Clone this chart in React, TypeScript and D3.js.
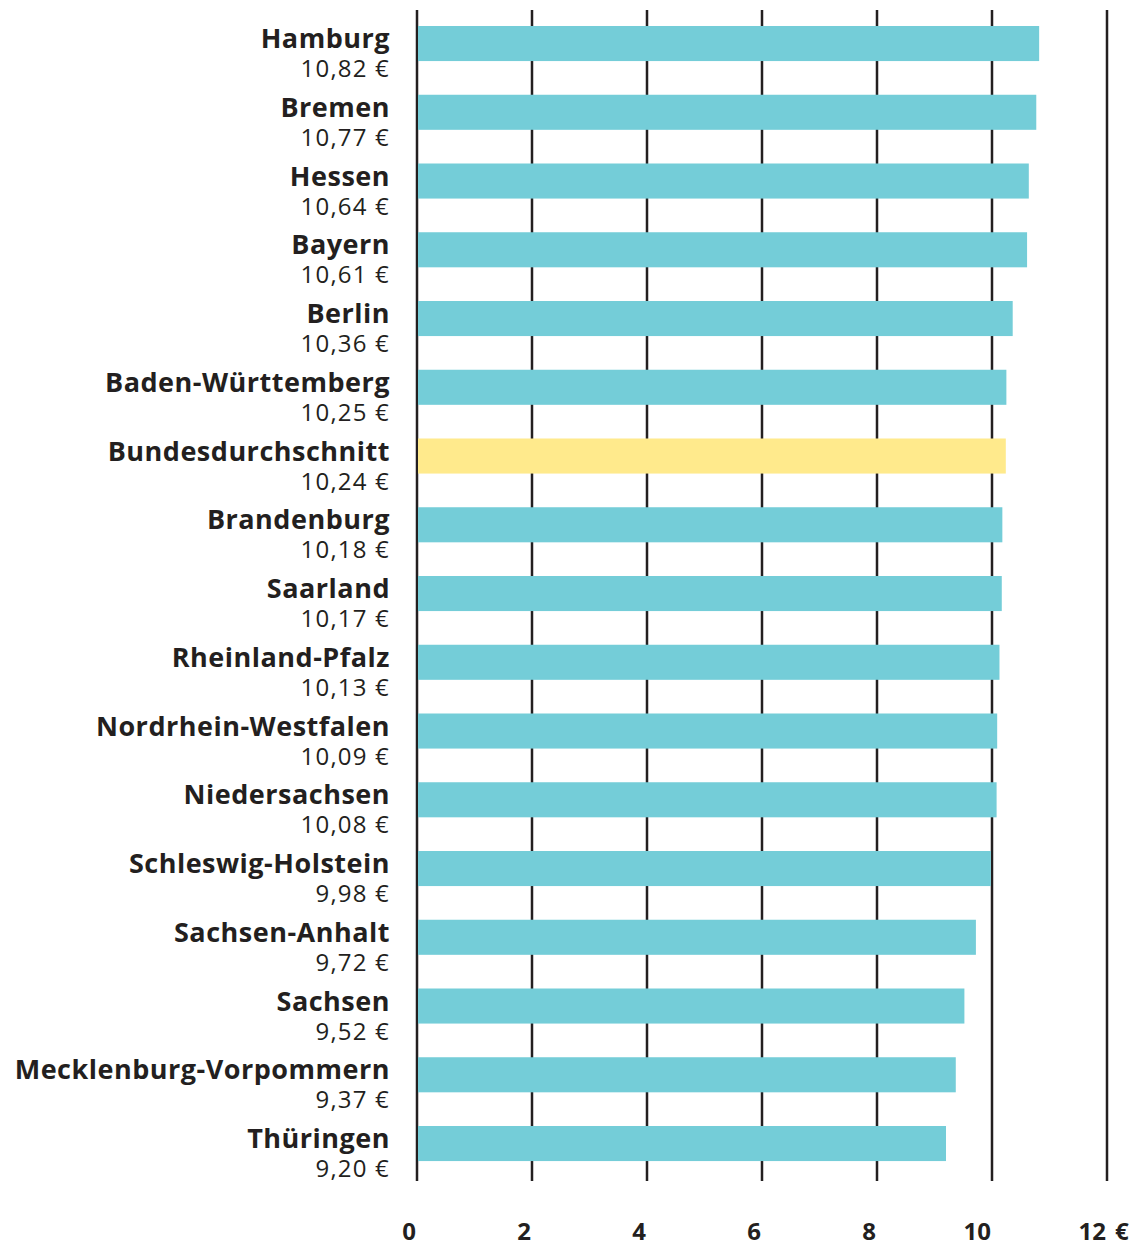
import React from 'react';
import * as d3 from 'd3';

const states = [
  'Hamburg', 'Bremen', 'Hessen', 'Bayern', 'Berlin', 'Baden-Württemberg',
  'Bundesdurchschnitt', 'Brandenburg', 'Saarland', 'Rheinland-Pfalz',
  'Nordrhein-Westfalen', 'Niedersachsen', 'Schleswig-Holstein',
  'Sachsen-Anhalt', 'Sachsen', 'Mecklenburg-Vorpommern', 'Thüringen',
];
const wages = [
  10.82, 10.77, 10.64, 10.61, 10.36, 10.25, 10.24, 10.18, 10.17, 10.13,
  10.09, 10.08, 9.98, 9.72, 9.52, 9.37, 9.2,
];
const ticks = [0, 2, 4, 6, 8, 10, 12];
const highlight = 'Bundesdurchschnitt';

const width = 1146;
const height = 1243;
const font = '"Open Sans", "DejaVu Sans", sans-serif';
const ink = '#231f20';

const fmt = (v: number) => d3.format('.2f')(v).replace('.', ',') + ' €';

export default function App() {
  const x = d3.scaleLinear().domain([0, 12]).range([417, 1107]);
  const pad = 0.49;
  const step = 68.75;
  const y = d3.scaleBand<string>()
    .domain(states)
    .range([26, 26 + step * (states.length - pad)])
    .paddingInner(pad)
    .paddingOuter(0);
  const bw = y.bandwidth();

  return (
    <svg width={width} height={height}
      style={{ position: 'absolute', left: 0, top: 0, background: '#fff' }}
      fontFamily={font}>
      {ticks.map(t => (
        <line key={'g' + t} x1={x(t)} x2={x(t)} y1={10} y2={1181}
          stroke={ink} strokeWidth={2.5} />
      ))}
      {states.map((s, i) => (
        <rect key={s} x={x(0) + 1} y={y(s)} width={x(wages[i]) - x(0) - 1} height={bw}
          fill={s === highlight ? '#ffea8c' : '#74cdd8'} />
      ))}
      {states.map((s, i) => (
        <g key={'l' + s} transform={`translate(390,${y(s)})`} fill={ink} textAnchor="end">
          <text y={22} fontSize={27} fontWeight={700} letterSpacing={0.5}>{s}</text>
          <text y={51} fontSize={24} letterSpacing={1.2}>{fmt(wages[i])}</text>
        </g>
      ))}
      {ticks.map(t => (
        <text key={'t' + t} x={x(t) - 1} y={1240} textAnchor="end" fontSize={24}
          fontWeight={700} fill={ink}>{t}</text>
      ))}
      <text x={x(12) + 8} y={1240} fontSize={24} fontWeight={700} fill={ink}>€</text>
    </svg>
  );
}
